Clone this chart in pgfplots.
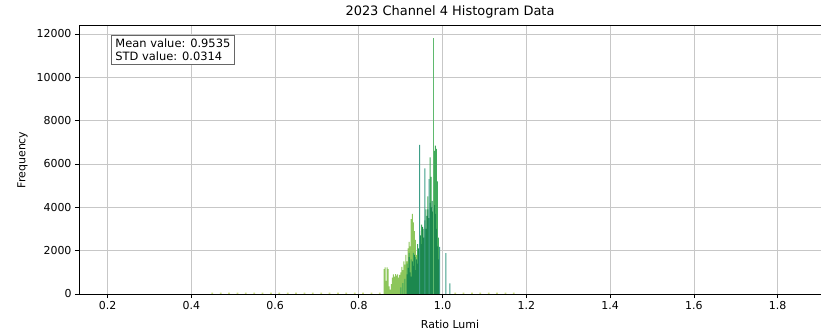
\documentclass[border=0pt]{standalone}
\usepackage{pgfplots}
\pgfplotsset{compat=1.18}
\usepackage{fontspec}
\setmainfont{DejaVu Sans}
\definecolor{lightg}{RGB}{141,198,91}
\definecolor{medg}{RGB}{64,170,90}
\definecolor{darkg}{RGB}{28,136,78}
\definecolor{tealg}{RGB}{62,158,136}
\definecolor{spikeg}{RGB}{95,185,110}
\definecolor{faintg}{RGB}{205,222,130}
\begin{document}
\begin{tikzpicture}
\begin{axis}[
  scale only axis,
  width=742bp, height=268.3bp,
  xmin=0.1317, xmax=1.9035,
  ymin=0, ymax=12383,
  xtick={0.2,0.4,...,1.8},
  ytick={0,2000,...,12000},
  xticklabel style={/pgf/number format/.cd,fixed,fixed zerofill,precision=1,assume math mode=true},
  yticklabel style={/pgf/number format/.cd,fixed,set thousands separator={},assume math mode=true},
  scaled ticks=false,
  tick label style={font=\fontsize{11}{13}\selectfont},
  label style={font=\fontsize{11}{13}\selectfont},
  tick align=outside, tick pos=left,
  major tick length=4bp,
  every tick/.style={black, line width=0.8bp},
  axis line style={line width=0.8bp},
  grid=major,
  major grid style={color=black!22, line width=0.8bp},
  xlabel={Ratio Lumi}, ylabel={Frequency},
  xlabel style={yshift=-4bp},
  ylabel style={yshift=2bp},
]
% faint baseline counts
\addplot[ybar, bar width=0.004, bar shift=0pt, fill=faintg, draw=none] coordinates {
(0.45,60)(0.47,60)(0.49,60)(0.51,60)(0.53,60)(0.55,60)(0.57,60)(0.59,60)(0.61,60)(0.63,60)(0.65,60)(0.67,60)(0.69,60)(0.71,60)(0.73,60)(0.75,60)(0.77,60)(0.79,60)(0.81,60)(0.83,60)(0.85,60)(1.03,60)(1.05,60)(1.07,60)(1.09,60)(1.11,60)(1.13,60)(1.15,60)(1.17,60)
};
% light green series
\addplot[ybar, bar width=0.0024, bar shift=0pt, fill=lightg, draw=none] coordinates {
(0.8600,1150)(0.8625,1230)(0.8650,600)(0.8675,1230)(0.8700,1150)(0.8725,350)(0.8750,200)(0.8775,450)
(0.8800,750)(0.8825,900)(0.8850,800)(0.8875,920)(0.8900,850)(0.8925,900)(0.8950,760)(0.8975,880)
(0.9000,1000)(0.9025,1250)(0.9050,1100)(0.9075,1500)(0.9100,1350)(0.9125,1800)(0.9150,1500)(0.9175,2100)
(0.9200,2400)(0.9225,2200)(0.9250,3450)(0.9275,3700)(0.9300,3300)(0.9325,2900)(0.9350,2500)(0.9375,1800)
(0.9400,2000)(0.9425,1500)(0.9450,1100)(0.9475,800)
};
% medium green series
\addplot[ybar, bar width=0.0024, bar shift=0pt, fill=medg, draw=none] coordinates {
(0.9000,300)(0.9050,500)(0.9100,700)(0.9150,1400)(0.9200,1900)(0.9250,1600)(0.9300,1900)(0.9350,1700)
(0.9400,2300)(0.9450,2900)(0.9500,3200)(0.9550,3000)(0.9600,3900)(0.9650,4500)(0.9700,6300)(0.9725,5400)
(0.9800,6600)(0.9825,6850)(0.9850,6700)(0.9875,5200)(0.9900,2600)(0.9925,1500)
};
% dark green series
\addplot[ybar, bar width=0.0024, bar shift=0pt, fill=darkg, draw=none] coordinates {
(0.9150,900)(0.9175,1200)(0.9200,1700)(0.9225,1000)(0.9250,800)(0.9275,1500)(0.9300,1300)(0.9325,1800)
(0.9350,1100)(0.9375,1600)(0.9400,1400)(0.9425,2100)(0.9450,1900)(0.9475,2700)(0.9500,2300)(0.9525,3100)
(0.9550,2600)(0.9575,3400)(0.9600,3000)(0.9625,3600)(0.9650,3900)(0.9675,3500)(0.9700,4200)(0.9725,4000)
(0.9750,4300)(0.9775,3800)(0.9800,4100)(0.9825,3700)(0.9850,3000)(0.9875,2200)(0.9900,1600)(0.9925,800)
};
% teal spikes
\addplot[ybar, bar width=0.0024, bar shift=0pt, fill=tealg, draw=none] coordinates {
(0.9450,6880)(0.9575,5800)(0.9675,5300)(0.9930,2180)(1.0075,1890)(1.0175,490)
};
% tallest spike
\addplot[ybar, bar width=0.0024, bar shift=0pt, fill=spikeg, draw=none] coordinates {
(0.9775,11800)
};
\end{axis}
\node[font=\fontsize{13}{15}\selectfont] at (371bp,282bp) {2023 Channel 4 Histogram Data};
\node[draw=black!60, line width=0.8bp, fill=white, anchor=north west, align=left,
      inner xsep=4bp, inner ysep=3.5bp, font=\fontsize{11.5}{13}\selectfont] at (32bp,259bp)
      {Mean value: 0.9535\\STD value: 0.0314};
\pgfresetboundingbox
\path[use as bounding box] (-79bp,-39bp) rectangle (742bp,294bp);
\end{tikzpicture}
\end{document}
